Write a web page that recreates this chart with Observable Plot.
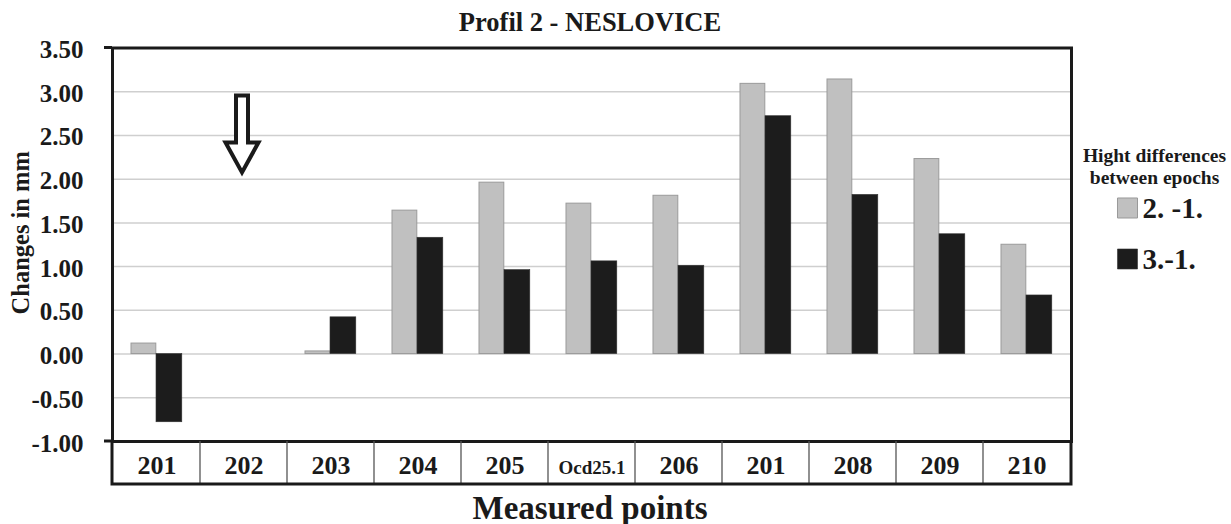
<!DOCTYPE html>
<html>
<head>
<meta charset="utf-8">
<script src="https://cdn.jsdelivr.net/npm/d3@7"></script>
<script src="https://cdn.jsdelivr.net/npm/@observablehq/plot@0.6"></script>
<style>
  html, body { margin: 0; padding: 0; background: #fff; }
  #chart svg { display: block; }
</style>
</head>
<body>
<div id="chart"></div>
<script>
// Measured points along profile 2 (point 201 appears twice along the line)
const points = ["201", "202", "203", "204", "205", "Ocd25.1", "206", "201", "208", "209", "210"];
// Height differences in mm between epochs (202 was not measured)
const diff2to1 = [0.12, null, 0.03, 1.64, 1.96, 1.72, 1.81, 3.09, 3.14, 2.23, 1.25];
const diff3to1 = [-0.78, null, 0.42, 1.33, 0.96, 1.06, 1.01, 2.72, 1.82, 1.37, 0.67];
const series = ["2. -1.", "3.-1."];
const seriesColors = ["#c0c0c0", "#1c1c1c"];
const yTicks = [-1, -0.5, 0, 0.5, 1, 1.5, 2, 2.5, 3, 3.5];
// Downward arrow marking point 202, from 3.00 mm to 2.00 mm
const arrowAt = [{point: 1, from: 3.0, to: 2.0}];

const idx = points.map((_, i) => i);
const rows = [
  ...diff2to1.map((v, i) => ({i, series: series[0], value: v})),
  ...diff3to1.map((v, i) => ({i, series: series[1], value: v}))
].filter(d => d.value != null);

const ink = "#1a1a1a";
const serif = "'Liberation Serif', 'Times New Roman', serif";

// Hollow block arrow symbol
const blockArrow = {
  draw(ctx) {
    ctx.moveTo(-6, -40);
    ctx.lineTo(6, -40);
    ctx.lineTo(6, 7);
    ctx.lineTo(16.5, 7);
    ctx.lineTo(0, 37);
    ctx.lineTo(-16.5, 7);
    ctx.lineTo(-6, 7);
    ctx.closePath();
  }
};

// Data-table row under the plot: cell borders follow the x bands
function pointTable(index, scales, values, dims) {
  const x = scales.x, y = scales.y;
  const left = dims.marginLeft;
  const right = dims.width - dims.marginRight;
  const top = dims.height - dims.marginBottom;
  const bottom = top + 43;
  const g = d3.create("svg:g").attr("fill", "none");
  for (const i of idx.slice(1)) {
    g.append("line")
      .attr("x1", x(i)).attr("x2", x(i))
      .attr("y1", top).attr("y2", bottom)
      .attr("stroke", "#555").attr("stroke-width", 1.3);
  }
  g.append("path")
    .attr("d", `M${left},${top}V${bottom}H${right}V${top}`)
    .attr("stroke", ink).attr("stroke-width", 3);
  for (const v of [yTicks[0], yTicks[yTicks.length - 1]]) {
    g.append("line")
      .attr("x1", left - 8).attr("x2", left)
      .attr("y1", y(v)).attr("y2", y(v))
      .attr("stroke", ink).attr("stroke-width", 3);
  }
  return g.node();
}

const legendText = {frameAnchor: "top-right", fontFamily: serif, fontWeight: "bold", fill: ink, lineAnchor: "bottom"};

const chart = Plot.plot({
  width: 1231,
  height: 524,
  marginTop: 47.5,
  marginBottom: 83,
  marginLeft: 112,
  marginRight: 160,
  style: {fontFamily: serif, background: "#fff", color: ink},
  x: {type: "band", domain: idx, padding: 0, axis: null},
  y: {domain: [-1, 3.5], axis: null},
  color: {domain: series, range: seriesColors},
  marks: [
    Plot.gridY(yTicks.slice(1, -1), {stroke: "#cfcfcf", strokeOpacity: 1, strokeWidth: 1.5}),
    Plot.barY(rows.filter(d => d.series === series[0]), {
      x: "i", y: "value", fill: "series",
      stroke: "#9a9a9a", strokeWidth: 1,
      insetLeft: 18, insetRight: 44.2
    }),
    Plot.barY(rows.filter(d => d.series === series[1]), {
      x: "i", y: "value", fill: "series",
      stroke: "#333", strokeWidth: 0.6,
      insetLeft: 43, insetRight: 18.2
    }),
    Plot.dot(arrowAt, {
      x: "point", y: d => (d.from + d.to) / 2,
      symbol: blockArrow, fill: "#fff", stroke: ink, strokeWidth: 4,
      strokeLinejoin: "miter", dx: -2
    }),
    Plot.frame({stroke: ink, strokeWidth: 3}),
    pointTable,
    Plot.axisY(yTicks, {
      tickSize: 0, tickPadding: 29, tickFormat: d => d.toFixed(2),
      fontSize: 25, fontWeight: "bold", fill: ink, label: null, dy: 2
    }),
    Plot.text(idx, {
      x: d => d, text: d => points[d],
      frameAnchor: "bottom", lineAnchor: "bottom", dy: 32,
      fontSize: d => (points[d].length > 4 ? 19 : 26),
      fontWeight: "bold", fill: ink
    }),
    Plot.text(["Profil 2 - NESLOVICE"], {
      frameAnchor: "top", lineAnchor: "bottom", dy: -17, dx: -2,
      fontSize: 26.5, fontWeight: "bold", fill: ink
    }),
    Plot.text(["Measured points"], {
      frameAnchor: "bottom", lineAnchor: "bottom", dy: 77, dx: -2,
      fontSize: 33, fontWeight: "bold", fill: ink
    }),
    Plot.text(["Changes in mm"], {
      frameAnchor: "left", textAnchor: "middle", rotate: -90, dx: -91, dy: -12,
      fontSize: 24.5, fontWeight: "bold", fill: ink
    }),
    Plot.text(["Hight differences"], {...legendText, dx: 83, dy: 113.5, fontSize: 19.5, textAnchor: "middle"}),
    Plot.text(["between epochs"], {...legendText, dx: 83, dy: 135.5, fontSize: 19.5, textAnchor: "middle"}),
    Plot.dot([series[0]], {frameAnchor: "top-right", dx: 56, dy: 160, symbol: "square", r: 11.3, fill: d => d, stroke: "#999", strokeWidth: 1}),
    Plot.text([series[0]], {...legendText, dx: 71, dy: 169.5, fontSize: 29, textAnchor: "start"}),
    Plot.dot([series[1]], {frameAnchor: "top-right", dx: 56, dy: 211, symbol: "square", r: 11.3, fill: d => d, stroke: "#333", strokeWidth: 0.6}),
    Plot.text([series[1]], {...legendText, dx: 71, dy: 220.5, fontSize: 29, textAnchor: "start"})
  ]
});

document.getElementById("chart").append(chart);
</script>
</body>
</html>
